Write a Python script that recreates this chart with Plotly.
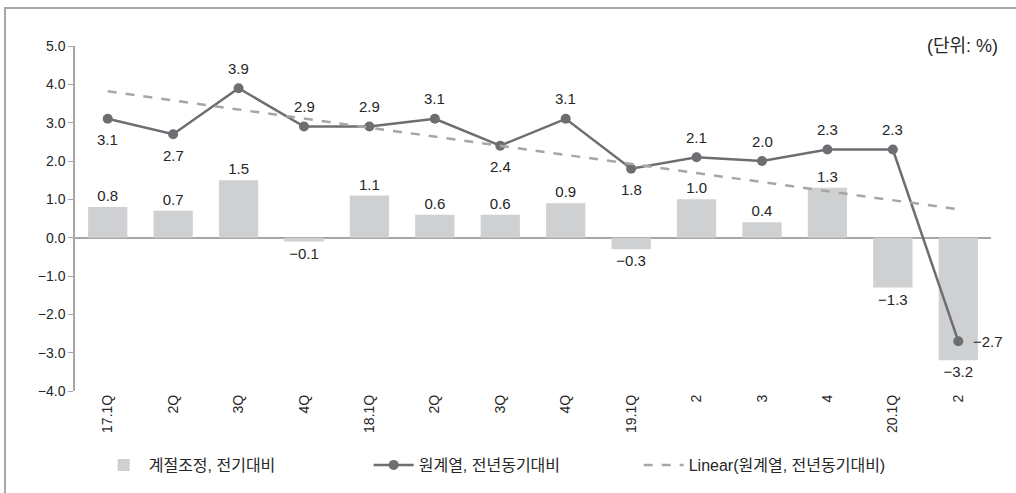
import numpy as np
import plotly.graph_objects as go

# Quarter labels (17.1Q through 20.2Q)
quarters = ["17.1Q", "2Q", "3Q", "4Q", "18.1Q", "2Q", "3Q", "4Q",
            "19.1Q", "2", "3", "4", "20.1Q", "2"]

# Seasonally adjusted, quarter-on-quarter (%)
qoq_sa = [0.8, 0.7, 1.5, -0.1, 1.1, 0.6, 0.6, 0.9, -0.3, 1.0, 0.4, 1.3, -1.3, -3.2]

# Original series, year-on-year (%)
yoy_raw = [3.1, 2.7, 3.9, 2.9, 2.9, 3.1, 2.4, 3.1, 1.8, 2.1, 2.0, 2.3, 2.3, -2.7]

# Where each year-on-year label sits relative to its marker
yoy_label_pos = ["below", "below", "above", "above", "above", "above", "below",
                 "above", "below", "above", "above", "above", "above", "right"]

xs = np.arange(len(quarters))

# Least-squares trend of the year-on-year series
slope, intercept = np.polyfit(xs, yoy_raw, 1)
trend = slope * xs + intercept


def fmt(v):
    s = f"{abs(v):.1f}"
    return ("\u2212" + s) if v < 0 else s


FONT = "Liberation Sans, Noto Sans CJK KR, sans-serif"
TXT = "#262626"

fig = go.Figure()

fig.add_trace(go.Bar(
    x=xs, y=qoq_sa, name="계절조정, 전기대비",
    marker=dict(color="#cfd0d2", line=dict(width=0)),
    width=0.6,
    text=[fmt(v) for v in qoq_sa], textposition="outside",
    textfont=dict(size=15, color=TXT, family=FONT),
    cliponaxis=False,
))

fig.add_trace(go.Scatter(
    x=xs, y=yoy_raw, name="원계열, 전년동기대비",
    mode="lines+markers",
    line=dict(color="#6d6e71", width=2.5),
    marker=dict(color="#6d6e71", size=10),
    cliponaxis=False,
))

fig.add_trace(go.Scatter(
    x=xs, y=trend, name="Linear(원계열, 전년동기대비)",
    mode="lines",
    line=dict(color="#a6a6a6", width=2.5, dash="dash"),
))

# Value labels for the year-on-year line
for xi, v, pos in zip(xs, yoy_raw, yoy_label_pos):
    shift = {"above": (0, 20), "below": (0, -21), "right": (30, 0)}[pos]
    fig.add_annotation(x=xi, y=v, text=fmt(v), showarrow=False,
                       xshift=shift[0], yshift=shift[1],
                       font=dict(size=15, color=TXT, family=FONT))

# Outer frame of the chart panel
fig.add_shape(type="rect", xref="paper", yref="paper",
              x0=-0.0764, x1=1.05, y0=-0.40, y1=1.1098,
              line=dict(color="#a6a6a6", width=2), layer="below")

fig.add_annotation(text="(단위: %)", xref="paper", yref="paper",
                   x=1.01, y=1.0, xanchor="right", yanchor="middle",
                   showarrow=False,
                   font=dict(size=18, color=TXT, family=FONT))

fig.update_layout(
    width=1016, height=493,
    margin=dict(l=75, r=25, t=46, b=101),
    paper_bgcolor="white", plot_bgcolor="white",
    font=dict(family=FONT, size=14, color=TXT),
    showlegend=True,
    legend=dict(orientation="h", x=0.468, xanchor="center",
                y=-0.211, yanchor="middle",
                font=dict(size=16, color=TXT, family=FONT),
                itemwidth=40, entrywidth=215, bgcolor="rgba(0,0,0,0)"),
)

fig.update_xaxes(
    range=[-0.5, len(quarters) - 0.5],
    tickmode="array", tickvals=xs, ticktext=quarters,
    tickangle=-90, showgrid=False, showline=False, zeroline=False,
    ticks="", tickfont=dict(size=14, color=TXT, family=FONT),
)

fig.update_yaxes(
    range=[-4, 5], dtick=1, tickformat=".1f",
    showgrid=False, showline=True, linecolor="#a6a6a6", linewidth=1.5,
    ticks="outside", ticklen=5, tickcolor="#a6a6a6",
    zeroline=True, zerolinecolor="#a6a6a6", zerolinewidth=1.5,
    tickfont=dict(size=14, color=TXT, family=FONT),
)

fig.write_html("out.html")
